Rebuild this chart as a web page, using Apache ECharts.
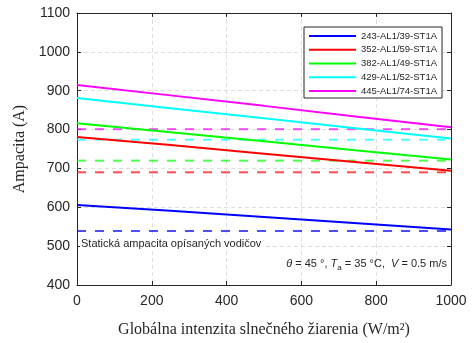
<!DOCTYPE html>
<html>
<head>
<meta charset="utf-8">
<script src="https://cdn.jsdelivr.net/npm/echarts@6/dist/echarts.min.js"></script>
<style>
  html, body { margin: 0; padding: 0; background: #fff; }
  #chart { width: 472px; height: 343px; }
</style>
</head>
<body>
<div id="chart"></div>
<script>
// irradiance (W/m2) where the curves were read
var irradiance = [0, 250, 500, 750, 1000];
var conductors = ['243-AL1/39-ST1A', '352-AL1/59-ST1A', '382-AL1/49-ST1A', '429-AL1/52-ST1A', '445-AL1/74-ST1A'];
// dynamic ampacity (A) per conductor
var amp243 = [606, 591, 575, 559, 543];
var amp352 = [781, 760, 738, 716, 694];
var amp382 = [816, 793, 770, 746, 723];
var amp429 = [881, 855, 829, 803, 777];
var amp445 = [915, 888, 861, 833, 806];
// static ampacity (A) of the same conductors
var staticAmp = [539, 690, 720, 774, 801];
var xRange = [0, 1000];
var yTicks = [400, 1100, 100];

var colors = ['#0000ff', '#ff0000', '#00ff00', '#00ffff', '#ff00ff'];
var dynamic = [amp243, amp352, amp382, amp429, amp445];

var axisColor = '#262626';
var sans = 'Liberation Sans';
var serif = 'Liberation Serif';

var series = [];
// dashed lines first so solid ones sit on top
staticAmp.forEach(function (v, i) {
    series.push({
        name: conductors[i] + ' static',
        type: 'line',
        showSymbol: false,
        silent: true,
        data: [[xRange[0], v], [xRange[1], v]],
        lineStyle: { color: colors[i], width: 2, type: [9, 9], opacity: 0.7 },
        z: 2
    });
});
dynamic.forEach(function (arr, i) {
    series.push({
        name: conductors[i],
        type: 'line',
        showSymbol: false,
        symbol: 'none',
        data: irradiance.map(function (x, j) { return [x, arr[j]]; }),
        lineStyle: { color: colors[i], width: 2 },
        itemStyle: { color: colors[i] },
        z: 3
    });
});

function valueAxis(pos, show) {
    return {
        type: 'value',
        position: pos,
        axisLine: { show: true, onZero: false, lineStyle: { color: axisColor, width: 1 } },
        axisTick: { show: true, inside: true, length: 4, lineStyle: { color: axisColor } },
        axisLabel: {
            show: show, color: axisColor, fontFamily: sans, fontSize: 14,
            formatter: function (v) { return String(v); }
        },
        splitLine: { show: show, lineStyle: { color: '#dedede', type: [4, 3] } }
    };
}

var xBottom = valueAxis('bottom', true);
xBottom.min = xRange[0]; xBottom.max = xRange[1]; xBottom.interval = 200;
xBottom.axisLabel.margin = 9;
xBottom.name = 'Globálna intenzita slnečného žiarenia (W/m²)';
xBottom.nameLocation = 'middle';
xBottom.nameGap = 37;
xBottom.nameTextStyle = { fontFamily: serif, fontSize: 16, color: axisColor };
var xTop = valueAxis('top', false);
xTop.min = xRange[0]; xTop.max = xRange[1]; xTop.interval = 200;

var yLeft = valueAxis('left', true);
yLeft.min = yTicks[0]; yLeft.max = yTicks[1]; yLeft.interval = yTicks[2];
yLeft.axisLabel.margin = 7;
yLeft.name = 'Ampacita (A)';
yLeft.nameLocation = 'middle';
yLeft.nameGap = 39;
yLeft.nameTextStyle = { fontFamily: serif, fontSize: 16, color: axisColor };
var yRight = valueAxis('right', false);
yRight.min = yTicks[0]; yRight.max = yTicks[1]; yRight.interval = yTicks[2];

var chart = echarts.init(document.getElementById('chart'), null, { renderer: 'canvas' });
chart.setOption({
    animation: false,
    backgroundColor: '#fff',
    grid: { left: 77, right: 21, top: 13, bottom: 54 },
    xAxis: [xBottom, xTop],
    yAxis: [yLeft, yRight],
    legend: {
        data: conductors,
        orient: 'vertical',
        left: 304,
        top: 27,
        width: 134,
        itemWidth: 47,
        itemHeight: 10,
        itemGap: 3.75,
        padding: [4, 5, 2, 4],
        borderColor: axisColor,
        borderWidth: 1,
        backgroundColor: '#fff',
        itemStyle: { opacity: 0 },
        lineStyle: { width: 2 },
        textStyle: { fontFamily: sans, fontSize: 9.5, color: axisColor }
    },
    graphic: [{
        type: 'text',
        left: 80,
        top: 237,
        z: 10,
        style: {
            text: 'Statická ampacita opísaných vodičov',
            fontFamily: sans,
            fontSize: 11,
            fill: axisColor,
            backgroundColor: '#fff',
            padding: [1, 1]
        }
    }, {
        type: 'text',
        right: 25,
        top: 256,
        z: 10,
        style: {
            text: '{i|θ} = 45 °, {i|T}{s|a} = 35 °C,  {i|V} = 0.5 m/s',
            fontFamily: sans,
            fontSize: 11,
            fill: axisColor,
            rich: {
                i: { fontStyle: 'italic', fontFamily: sans, fontSize: 11, lineHeight: 16 },
                s: { fontFamily: sans, fontSize: 8, lineHeight: 8, verticalAlign: 'bottom' }
            },
            lineHeight: 16
        }
    }],
    series: series
});
</script>
</body>
</html>
